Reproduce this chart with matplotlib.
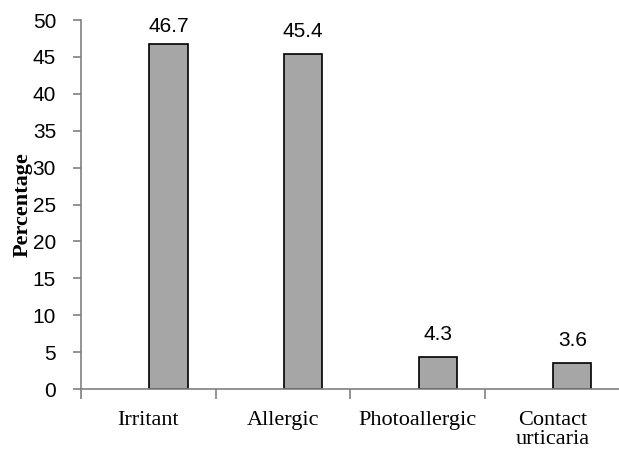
import matplotlib.pyplot as plt
import numpy as np

categories = ['Irritant', 'Allergic', 'Photoallergic', 'Contact\nurticaria']
values = [46.7, 45.4, 4.3, 3.6]
yticks = [0, 5, 10, 15, 20, 25, 30, 35, 40, 45, 50]

fig = plt.figure(figsize=(6.19, 4.66), dpi=100)
ax = fig.add_axes([0.131, 0.165, 0.87, 0.792])

x = np.arange(len(categories))
bars = ax.bar(x + 0.007, values, width=0.284, align='edge',
              color='#a6a6a6', edgecolor='black', linewidth=1.2)

# value labels above bars (top one squeezed under the axis top like the original)
for b, v in zip(bars, values):
    ax.text(b.get_x() + b.get_width() / 2, min(v + 2.3, 48.4), str(v),
            ha='center', va='baseline', fontsize=15, family='Liberation Sans')

ax.set_xlim(-0.5, 3.5)
ax.set_ylim(0, 50)
ax.set_yticks(yticks)
ax.set_yticklabels([str(t) for t in yticks], fontsize=15, family='Liberation Sans')

ax.set_xticks(x)
ax.set_xticklabels(categories, fontsize=16, family='Liberation Serif', linespacing=1.0)
ax.tick_params(axis='x', length=0, pad=16)
ax.set_xticks([-0.5, 0.5, 1.5, 2.5], minor=True)
ax.tick_params(axis='x', which='minor', length=7, color='#808080', width=1.2)
ax.tick_params(axis='y', length=6, color='#808080', width=1.2, pad=12)

for s in ['top', 'right']:
    ax.spines[s].set_visible(False)
for s in ['left', 'bottom']:
    ax.spines[s].set_color('#808080')
    ax.spines[s].set_linewidth(1.2)

ax.set_ylabel('Percentage', fontsize=16, family='Liberation Serif', fontweight='bold')
ax.yaxis.set_label_coords(-0.09, 0.5)

fig.savefig('out.png', dpi=100)
